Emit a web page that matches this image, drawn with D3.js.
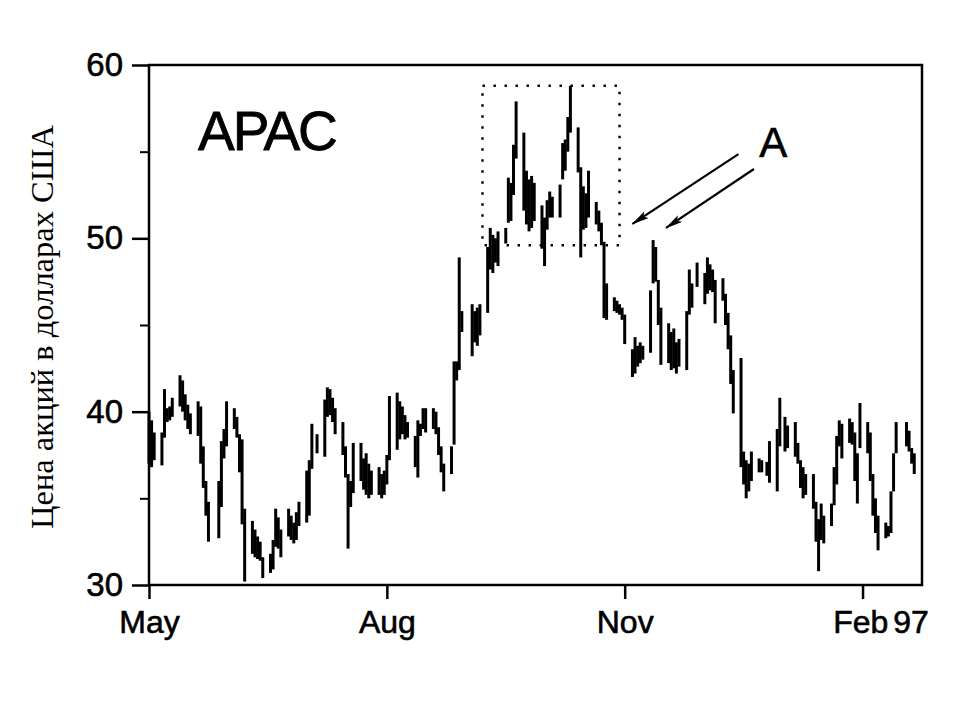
<!DOCTYPE html>
<html>
<head>
<meta charset="utf-8">
<script src="https://cdn.jsdelivr.net/npm/d3@7"></script>
<style>
  html, body { margin: 0; padding: 0; background: #fff; }
  svg { display: block; }
</style>
</head>
<body>
<svg id="chart" width="960" height="720"></svg>
<script>
// ---------- DATA (daily high/low, weekdays from 1 May 1996; null = market holiday) ----------
const startDate = "1996-05-01";
const highs = [
  40.0, 39.5, 38.8,
  38.8, 41.3, 40.2, 40.3, 40.8,
  42.1, 41.8, 41.0, 40.4, 39.9,
  40.6, 40.3, 38.0, 36.0, 34.8,
  null, 36.0, 38.3, 39.0, 40.6,
  40.2, 39.7, 38.7, 38.4, 34.4,
  33.7, 33.2, 32.8, 32.5, 31.6,
  31.8, 32.6, 34.4, 33.9, 33.2,
  34.4, 34.0, 33.6, 34.2, 34.8,
  36.6, 37.2, 39.3, null, 38.7,
  40.7, 41.4, 41.3, 40.8, 40.2,
  39.4, 38.0, 36.4, 36.0, 38.2,
  38.2, 37.3, 37.6, 37.0, 36.6,
  36.8, 36.4, 36.6, 37.5, 40.9,
  41.1, 40.6, 40.3, 39.8, 39.4,
  38.6, 39.5, 39.3, 40.2, 40.2,
  40.2, 40.0, 39.1, 38.0, 37.0,
  38.0, 42.9, 42.9, 48.9, 45.8,
  null, 46.2, 45.8, 46.0, 46.2,
  49.5, 50.6, 50.2, 50.0, 50.4,
  50.6, 53.5, 53.2, 55.4, 57.9,
  56.1, 53.9, 53.4, 53.6, 53.2,
  51.9, 51.2, 52.2, 52.7, 52.4,
  53.1, 55.5, 55.7, 57.0, 58.8,
  56.4, 54.1, 53.0, 52.6, 53.9,
  52.1, 51.6, 50.9, 49.8, 47.4,
  46.6, 46.4, 46.2, 46.0, 45.6,
  43.6, 44.3, 43.8, 44.0, 43.8,
  47.0, 49.9, 49.5, 47.6, 46.0,
  45.1, 44.6, 44.8, 44.0, 44.2,
  45.8, 48.2, 47.4, null, 48.6,
  48.0, 48.9, 48.5, 48.2, 47.6,
  47.7, 46.8, 45.7, 44.4, 42.4,
  43.1, 37.7, 37.2, 37.0, 37.7,
  37.3, 37.2, null, 37.1, 38.3,
  39.0, 40.8, null, 39.7, 39.2,
  39.4, 38.2, 37.2, 36.8, 36.4,
  36.4, 34.8, 33.8, 34.7, 34.0,
  34.7, 36.8, 38.6, 39.5, 39.3,
  39.6, 39.4, 38.8, 37.6, 40.5,
  39.4, 38.8, 36.4, 35.0, 34.0,
  33.6, 33.4, 35.4, 37.6, 39.4,
  null, 39.4, 38.9, 37.9, 37.6
];
const lows = [
  37.0, 36.8, 37.2,
  36.9, 38.5, 39.4, 39.5, 39.7,
  40.3, 40.0, 39.5, 39.0, 38.7,
  38.6, 37.0, 35.6, 34.0, 32.5,
  null, 32.7, 34.5, 37.3, 38.0,
  39.0, 38.5, 36.5, 33.5, 30.2,
  31.8, 31.6, 31.5, 31.4, 30.4,
  30.7, 30.9, 32.2, 32.1, 31.6,
  32.8, 32.6, 32.4, 32.6, 33.4,
  33.6, 34.0, 36.7, null, 37.6,
  37.4, 39.7, 39.8, 39.4, 38.7,
  37.5, 36.2, 32.1, 34.5, 35.3,
  36.0, 35.5, 35.2, 35.0, 35.2,
  35.2, 35.0, 35.2, 35.8, 37.2,
  37.8, 38.4, 38.7, 38.4, 38.5,
  36.8, 36.2, 38.6, 39.0, 38.8,
  39.0, 38.7, 37.5, 36.5, 35.4,
  36.4, 38.1, 41.8, 42.4, 44.6,
  null, 43.2, 44.0, 43.8, 44.4,
  45.7, 48.2, 48.0, 48.6, 48.4,
  49.7, 50.9, 51.0, 52.5, 54.6,
  51.6, 50.8, 50.4, 50.6, 51.0,
  49.4, 48.4, 50.5, 51.2, 51.2,
  51.2, 53.4, 53.9, 55.0, 56.1,
  53.8, 48.9, 50.5, 50.6, 51.2,
  50.8, 50.4, 49.6, 45.4, 45.3,
  45.8, 45.7, 45.6, 45.3, 43.9,
  42.0, 42.2, 42.6, 42.8, 43.0,
  43.4, 47.4, 47.5, 45.0, 42.7,
  42.8, 42.4, 42.5, 42.2, 42.6,
  42.4, 45.6, 46.0, null, 47.2,
  46.2, 46.8, 47.0, 46.9, 45.1,
  46.4, 45.0, 43.6, 41.6, 39.9,
  36.8, 35.8, 35.0, 35.4, 36.0,
  36.5, 36.5, null, 36.3, 35.9,
  35.4, 38.0, null, 37.7, 37.9,
  37.4, 37.0, 35.6, 35.0, 35.2,
  34.4, 32.5, 30.8, 32.6, 32.4,
  33.4, 34.6, 35.8, 38.0, 37.3,
  38.2, 38.1, 36.0, 34.7, 37.9,
  37.6, 36.0, 34.0, 33.0, 32.0,
  32.7, 32.8, 33.0, 35.4, 37.6,
  null, 38.0, 37.7, 37.0, 36.4
];
const xDomain = ["1996-05-01", "1997-02-24"];
const xTickDates = ["1996-05-01", "1996-08-01", "1996-11-01", "1997-02-01"];
const xTickLabels = ["May", "Aug", "Nov", "Feb 97"];
const yDomain = [30, 60];
const yMajorTicks = [30, 40, 50, 60];
const yMinorTicks = [35, 45, 55];
const titleText = "APAC";
const yLabel = "Цена акций в долларах США";
// annotations (in data coordinates)
const boxDates = ["1996-09-07", "1996-10-30"];
const boxValues = [49.6, 58.8];
const arrowStarts = [["1996-12-15", 54.86], ["1996-12-21", 54.0]];
const arrowEnds = [["1996-11-04", 50.83], ["1996-11-17", 50.6]];
const markLabel = {text: "A", date: "1996-12-23", value: 54.7};
const titlePos = {date: "1996-05-20", value: 55.1};

// ---------- BUILD ----------
(function () {
const parse = d3.utcParse("%Y-%m-%d");
const weekdays = d3.utcDay.range(parse(startDate), parse("1997-03-01"))
  .filter(d => d.getUTCDay() !== 0 && d.getUTCDay() !== 6)
  .slice(0, highs.length);
const bars = weekdays.map((d, i) => ({date: d, high: highs[i], low: lows[i]}))
  .filter(b => b.high != null && b.low != null);

const mLeft = 149, mRight = 922, mTop = 65, mBottom = 585;
const svg = d3.select("#chart");
const x = d3.scaleUtc().domain(xDomain.map(parse)).range([mLeft, mRight]);
const y = d3.scaleLinear().domain(yDomain).range([mBottom, mTop]);

const FONT = "'Liberation Sans', Arial, sans-serif";

// frame
svg.append("rect")
  .attr("x", mLeft).attr("y", mTop)
  .attr("width", mRight - mLeft).attr("height", mBottom - mTop)
  .attr("fill", "none").attr("stroke", "#000").attr("stroke-width", 2.5);

// bars
svg.append("g").selectAll("line").data(bars).join("line")
  .attr("x1", d => x(d.date)).attr("x2", d => x(d.date))
  .attr("y1", d => y(d.low)).attr("y2", d => y(d.high))
  .attr("stroke", "#000").attr("stroke-width", 3);

// y axis
const yAxis = d3.axisLeft(y).tickValues(yMajorTicks).tickSize(17).tickPadding(9)
  .tickFormat(d3.format("d"));
const gy = svg.append("g").attr("transform", `translate(${mLeft},0)`).call(yAxis);
gy.select(".domain").remove();
gy.selectAll(".tick line").attr("stroke", "#000").attr("stroke-width", 2.5);
gy.selectAll(".tick text").attr("font-family", FONT).attr("font-size", 33)
  .attr("fill", "#000").attr("stroke", "#000").attr("stroke-width", 0.6);
const yMinor = d3.axisLeft(y).tickValues(yMinorTicks).tickSize(9).tickFormat("");
const gy2 = svg.append("g").attr("transform", `translate(${mLeft},0)`).call(yMinor);
gy2.select(".domain").remove();
gy2.selectAll(".tick line").attr("stroke", "#000").attr("stroke-width", 2);

// x axis
const xAxis = d3.axisBottom(x).tickValues(xTickDates.map(parse)).tickSize(14).tickPadding(11)
  .tickFormat((d, i) => xTickLabels[i]);
const gx = svg.append("g").attr("transform", `translate(0,${mBottom})`).call(xAxis);
gx.select(".domain").remove();
gx.selectAll(".tick line").attr("stroke", "#000").attr("stroke-width", 2.5);
gx.selectAll(".tick text").attr("font-family", FONT).attr("font-size", 32)
  .attr("fill", "#000").attr("stroke", "#000").attr("stroke-width", 0.6)
  .attr("dx", (d, i) => i === xTickLabels.length - 1 ? 18 : 0)
  .attr("word-spacing", (d, i) => i === xTickLabels.length - 1 ? -4 : 0);

// y label
svg.append("text")
  .attr("transform", `translate(53,${(mTop + mBottom) / 2 + 2}) rotate(-90)`)
  .attr("text-anchor", "middle")
  .attr("font-family", "'Liberation Serif', 'Times New Roman', serif")
  .attr("font-size", 32.5).attr("fill", "#000")
  .text(yLabel);

// title
svg.append("text")
  .attr("x", x(parse(titlePos.date))).attr("y", y(titlePos.value))
  .attr("font-family", FONT).attr("font-size", 55).attr("letter-spacing", -2)
  .attr("fill", "#000").attr("stroke", "#000").attr("stroke-width", 0.8)
  .text(titleText);

// dotted box
const bx0 = x(parse(boxDates[0])), bx1 = x(parse(boxDates[1]));
const by0 = y(boxValues[1]), by1 = y(boxValues[0]);
svg.append("rect")
  .attr("x", bx0).attr("y", by0).attr("width", bx1 - bx0).attr("height", by1 - by0)
  .attr("fill", "none").attr("stroke", "#000").attr("stroke-width", 2.4)
  .attr("stroke-dasharray", "2.4 8.6");

// arrows
const defs = svg.append("defs");
defs.append("marker").attr("id", "ah")
  .attr("viewBox", "0 0 18 8").attr("refX", 17).attr("refY", 4)
  .attr("markerUnits", "userSpaceOnUse")
  .attr("markerWidth", 18).attr("markerHeight", 8).attr("orient", "auto")
  .append("path").attr("d", "M0,0 L18,4 L0,8 L4,4 Z").attr("fill", "#000");
arrowStarts.forEach((s, i) => {
  const e = arrowEnds[i];
  svg.append("line")
    .attr("x1", x(parse(s[0]))).attr("y1", y(s[1]))
    .attr("x2", x(parse(e[0]))).attr("y2", y(e[1]))
    .attr("stroke", "#000").attr("stroke-width", 2.2)
    .attr("marker-end", "url(#ah)");
});

// A label
svg.append("text")
  .attr("x", x(parse(markLabel.date))).attr("y", y(markLabel.value))
  .attr("font-family", FONT).attr("font-size", 42)
  .attr("fill", "#000").attr("stroke", "#000").attr("stroke-width", 0.6)
  .text(markLabel.text);
})();
</script>
</body>
</html>
